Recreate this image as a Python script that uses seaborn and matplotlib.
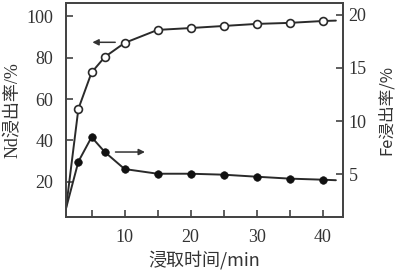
import matplotlib
matplotlib.use("Agg")
import matplotlib.pyplot as plt
import seaborn as sns
import pandas as pd

# Data
time_min = [3, 5, 7, 10, 15, 20, 25, 30, 35, 40]
nd_rate = [55.3, 72.9, 80.4, 87.2, 93.5, 94.4, 95.4, 96.4, 96.9, 97.8]
fe_rate = [6.2, 8.5, 7.1, 5.5, 5.06, 5.06, 4.97, 4.78, 4.6, 4.5]
# curve ends (line only, no marker)
line_start_x, line_end_x = 1, 42
nd_start, nd_end = 4.0, 98.0
fe_start, fe_end = 1.5, 4.45

x_ticks = [10, 20, 30, 40]
x_minor = [5, 15, 25, 35]
nd_ticks = [20, 40, 60, 80, 100]
fe_ticks = [5, 10, 15, 20]

sns.set_theme(style="ticks")
plt.rcParams['font.family'] = ['Liberation Serif', 'Noto Sans CJK SC', 'DejaVu Sans']
plt.rcParams['axes.unicode_minus'] = False

fig = plt.figure(figsize=(3.99, 2.76), dpi=100)
ax = fig.add_axes([0.165, 0.214, 0.695, 0.775])
ax2 = ax.twinx()

nd_line = pd.DataFrame({"t": [line_start_x] + time_min + [line_end_x],
                        "v": [nd_start] + nd_rate + [nd_end]})
fe_line = pd.DataFrame({"t": [line_start_x] + time_min + [line_end_x],
                        "v": [fe_start] + fe_rate + [fe_end]})
nd_pts = pd.DataFrame({"t": time_min, "v": nd_rate})
fe_pts = pd.DataFrame({"t": time_min, "v": fe_rate})

ink = "#2a2a2a"
sns.lineplot(data=nd_line, x="t", y="v", ax=ax, color=ink, lw=1.4)
sns.scatterplot(data=nd_pts, x="t", y="v", ax=ax, marker="o", s=32,
                facecolor="white", edgecolor=ink, linewidth=1.2, zorder=3)
sns.lineplot(data=fe_line, x="t", y="v", ax=ax2, color=ink, lw=1.4)
sns.scatterplot(data=fe_pts, x="t", y="v", ax=ax2, marker="o", s=30,
                color="#111111", edgecolor="#111111", zorder=3)

ax.set_xlim(1.1, 43.1)
ax.set_ylim(3, 106.5)
ax2.set_ylim(1.0, 21.1)

ax.set_xticks(x_ticks)
ax.set_xticks(x_minor, minor=True)
ax.set_yticks(nd_ticks)
ax2.set_yticks(fe_ticks)

ax.tick_params(axis="both", which="both", direction="in", length=5, width=1.1,
               labelsize=13, colors="#333333")
ax.tick_params(axis="x", which="both", pad=9)
ax.tick_params(axis="y", pad=9)
ax.tick_params(axis="x", which="minor", length=5)
ax2.tick_params(axis="y", direction="in", length=5, width=1.1, labelsize=13,
                colors="#333333", pad=4)
for a in (ax, ax2):
    for s in a.spines.values():
        s.set_color("#444444")
        s.set_linewidth(1.3)
        s.set_visible(True)

cjk = ['Noto Sans CJK SC', 'DejaVu Sans']
ax.set_xlabel("浸取时间/min", family=cjk, fontsize=13, color="#333333", labelpad=3)
ax.set_ylabel("Nd浸出率/%", family=['Liberation Serif', 'Noto Sans CJK SC'], fontsize=13,
              color="#333333", labelpad=3)
ax2.set_ylabel("Fe浸出率/%", family=cjk, fontsize=12, color="#333333", labelpad=8)

# arrows indicating which axis each curve belongs to
ax.annotate("", xy=(4.7, 87.5), xytext=(9.0, 87.5),
            arrowprops=dict(arrowstyle="-|>", color="#333333", lw=1.1, mutation_scale=9))
ax2.annotate("", xy=(13.5, 7.1), xytext=(8.2, 7.1),
             arrowprops=dict(arrowstyle="-|>", color="#333333", lw=1.1, mutation_scale=9))

fig.savefig("out.png", dpi=100)
